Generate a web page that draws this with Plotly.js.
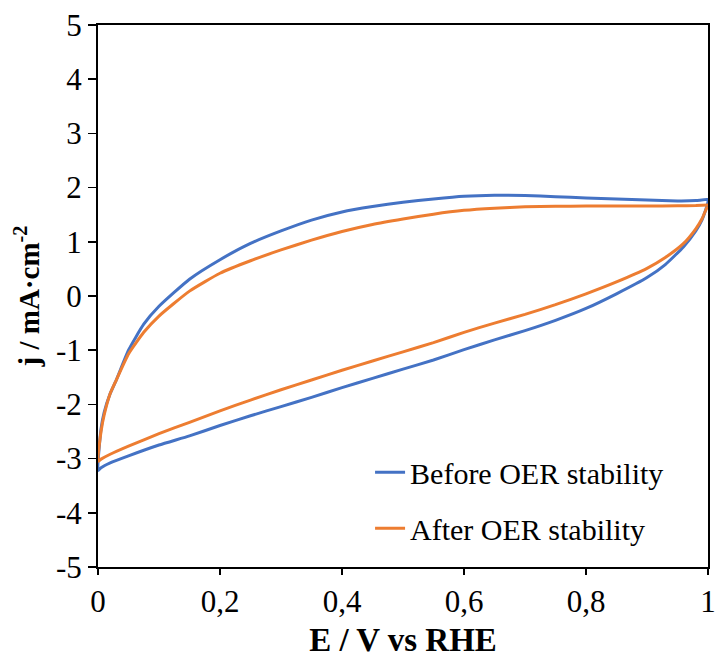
<!DOCTYPE html>
<html>
<head>
<meta charset="utf-8">
<script src="https://cdn.plot.ly/plotly-3.0.1.min.js"></script>
<style>html,body{margin:0;padding:0;background:#fff;}#chart{width:716px;height:661px;}</style>
</head>
<body>
<div id="chart"></div>
<script>
// Before OER stability: anodic (upper) branch then cathodic (lower) branch
const beforeUpperE = [0, 0.005, 0.01, 0.02, 0.03, 0.05, 0.075, 0.1, 0.15, 0.2, 0.25, 0.3, 0.35, 0.4, 0.45, 0.5, 0.55, 0.6, 0.65, 0.7, 0.75, 0.8, 0.85, 0.9, 0.95, 0.98, 1.0];
const beforeUpperJ = [-3.22, -2.45, -2.15, -1.8, -1.55, -1.0, -0.52, -0.19, 0.31, 0.67, 0.97, 1.20, 1.40, 1.55, 1.65, 1.73, 1.79, 1.84, 1.86, 1.855, 1.83, 1.81, 1.79, 1.77, 1.755, 1.76, 1.78];
const beforeLowerE = [1.0, 0.995, 0.99, 0.98, 0.96, 0.93, 0.9, 0.85, 0.8, 0.75, 0.7, 0.65, 0.6, 0.55, 0.5, 0.45, 0.4, 0.35, 0.3, 0.25, 0.2, 0.15, 0.1, 0.05, 0.02, 0.005, 0];
const beforeLowerJ = [1.74, 1.55, 1.40, 1.20, 0.91, 0.58, 0.34, 0.04, -0.23, -0.45, -0.64, -0.81, -0.99, -1.18, -1.35, -1.52, -1.69, -1.87, -2.04, -2.21, -2.39, -2.58, -2.75, -2.95, -3.08, -3.17, -3.22];

// After OER stability
const afterUpperE = [0, 0.005, 0.01, 0.02, 0.03, 0.05, 0.075, 0.1, 0.15, 0.2, 0.25, 0.3, 0.35, 0.4, 0.45, 0.5, 0.55, 0.6, 0.65, 0.7, 0.75, 0.8, 0.85, 0.9, 0.95, 0.98, 1.0];
const afterUpperJ = [-3.05, -2.5, -2.2, -1.8, -1.55, -1.07, -0.67, -0.37, 0.09, 0.42, 0.65, 0.85, 1.03, 1.19, 1.32, 1.42, 1.51, 1.58, 1.62, 1.645, 1.655, 1.66, 1.66, 1.66, 1.665, 1.67, 1.68];
const afterLowerE = [1.0, 0.995, 0.99, 0.98, 0.96, 0.93, 0.9, 0.85, 0.8, 0.75, 0.7, 0.65, 0.6, 0.55, 0.5, 0.45, 0.4, 0.35, 0.3, 0.25, 0.2, 0.15, 0.1, 0.05, 0.02, 0.005, 0];
const afterLowerJ = [1.68, 1.55, 1.42, 1.24, 0.97, 0.71, 0.51, 0.26, 0.04, -0.16, -0.34, -0.50, -0.67, -0.86, -1.03, -1.20, -1.37, -1.55, -1.73, -1.92, -2.12, -2.33, -2.54, -2.77, -2.92, -3.01, -3.05];

const seriesNames = ["Before OER stability", "After OER stability"];
const seriesColors = ["#4472C4", "#ED7D31"];

const xTickVals = [0, 0.2, 0.4, 0.6, 0.8, 1];
const xTickText = ["0", "0,2", "0,4", "0,6", "0,8", "1"];
const yTickVals = [-5, -4, -3, -2, -1, 0, 1, 2, 3, 4, 5];
const yTickText = ["-5", "-4", "-3", "-2", "-1", "0", "1", "2", "3", "4", "5"];

const FONT = "'Liberation Serif', 'Times New Roman', serif";

const traces = [
  {x: beforeUpperE.concat(beforeLowerE), y: beforeUpperJ.concat(beforeLowerJ), name: seriesNames[0], legendgroup: "a"},
  {x: afterUpperE.concat(afterLowerE), y: afterUpperJ.concat(afterLowerJ), name: seriesNames[1], legendgroup: "b"}
].map((t, i) => Object.assign(t, {
  type: "scatter", mode: "lines",
  line: {color: seriesColors[i], width: 3, shape: "spline", smoothing: 0.5}
}));

const layout = {
  width: 716, height: 661,
  margin: {l: 98, r: 8, t: 25, b: 94},
  paper_bgcolor: "#fff", plot_bgcolor: "#fff",
  font: {family: FONT, size: 30, color: "#000"},
  showlegend: true,
  legend: {x: 0.446, y: 0.223, xanchor: "left", yanchor: "top", bgcolor: "rgba(0,0,0,0)",
           font: {family: FONT, size: 30, color: "#000"}, tracegroupgap: 14, traceorder: "grouped"},
  xaxis: {range: [0, 1], tickvals: xTickVals, ticktext: xTickText, ticks: "outside", ticklen: 6, tickwidth: 1.5,
          tickcolor: "#000", showline: true, linecolor: "#000", linewidth: 2, mirror: true, showgrid: false, zeroline: false,
          tickfont: {family: FONT, size: 31}, title: {text: "<b>E / V vs RHE</b>", font: {family: FONT, size: 33}, standoff: 10}},
  yaxis: {range: [-5, 5], tickvals: yTickVals, ticktext: yTickText, ticks: "outside", ticklen: 8, tickwidth: 1.5,
          tickcolor: "#000", showline: true, linecolor: "#000", linewidth: 2, mirror: true, showgrid: false, zeroline: false,
          tickfont: {family: FONT, size: 31}, title: {text: "<b>j / mA·cm<sup>-2</sup></b>", font: {family: FONT, size: 29}, standoff: 8}}
};

Plotly.newPlot("chart", traces, layout, {displayModeBar: false, staticPlot: true});
</script>
</body>
</html>
